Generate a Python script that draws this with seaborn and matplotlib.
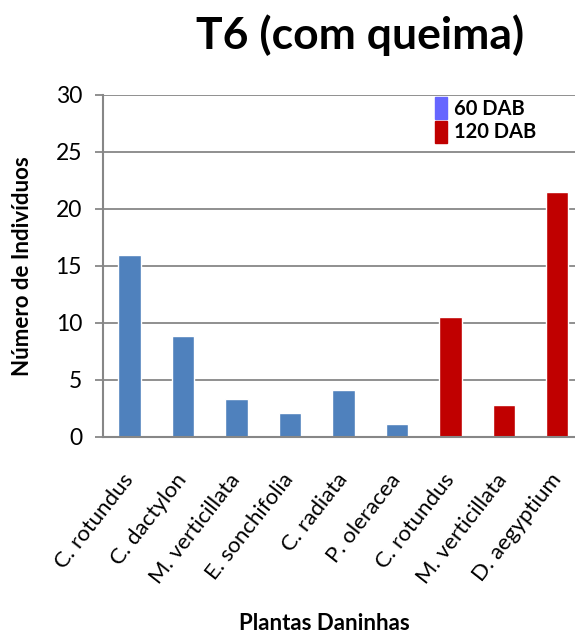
import matplotlib
matplotlib.use("Agg")
import matplotlib.pyplot as plt
import matplotlib.patches as mpatches
import seaborn as sns
import pandas as pd

# Weed counts per species, two sampling dates
plantas = ["C. rotundus", "C. dactylon", "M. verticillata", "E. sonchifolia",
           "C. radiata", "P. oleracea", "C. rotundus", "M. verticillata",
           "D. aegyptium"]
periodo = ["60 DAB"] * 6 + ["120 DAB"] * 3
individuos = [16, 8.9, 3.3, 2.1, 4.1, 1.1, 10.5, 2.8, 21.5]
y_ticks = [0, 5, 10, 15, 20, 25, 30]

bar_colors = {"60 DAB": "#4F81BD", "120 DAB": "#C00000"}
legend_colors = {"60 DAB": "#6666FF", "120 DAB": "#C00000"}

df = pd.DataFrame({
    "slot": [f"{i}" for i in range(len(plantas))],
    "planta": plantas,
    "periodo": periodo,
    "individuos": individuos,
})

sns.set_theme(style="white")
plt.rcParams["font.family"] = ["Lato", "DejaVu Sans"]
plt.rcParams["text.color"] = "black"

fig = plt.figure(figsize=(5.75, 6.37), dpi=100)
ax = fig.add_axes([0.179, 0.314, 0.8365, 0.537])

sns.barplot(data=df, x="slot", y="individuos", hue="periodo",
            palette=bar_colors, dodge=False, width=0.42, ax=ax,
            legend=False, saturation=1)

ax.set_ylim(0, 30)
ax.set_yticks(y_ticks)
ax.set_xlim(-0.5, len(plantas) - 0.5)
ax.yaxis.grid(True, color="#878787", linewidth=1.3)
ax.set_axisbelow(True)
for s in ["top", "right"]:
    ax.spines[s].set_visible(False)
for s in ["left", "bottom"]:
    ax.spines[s].set_color("#878787")
    ax.spines[s].set_linewidth(1.5)

ax.tick_params(axis="y", which="major", left=True, length=6, width=1.3,
               color="#878787", labelsize=16.5, pad=9, labelcolor="black")
ax.tick_params(axis="x", bottom=False, labelsize=16, pad=22,
               labelcolor="black")
ax.set_xticks(range(len(plantas)))
ax.set_xticklabels(plantas, rotation=52, ha="right", va="center",
                   rotation_mode="anchor", color="black")
ax.set_xlabel("")
ax.set_ylabel("")

fig.text(0.626, 0.945, "T6 (com queima)", ha="center", va="center",
         fontsize=32, fontweight="bold", color="black")
fig.text(0.565, 0.021, "Plantas Daninhas", ha="center", va="center",
         fontsize=16, fontweight="bold", color="black")
fig.text(0.040, 0.582, "Número de Indivíduos", ha="center", va="center",
         rotation=90, fontsize=16, fontweight="bold", color="black")

handles = [mpatches.Patch(color=legend_colors[k], label=k)
           for k in ["60 DAB", "120 DAB"]]
leg = ax.legend(handles=handles, loc="upper left",
                bbox_to_anchor=(0.673, 1.018), frameon=False,
                handlelength=0.6, handleheight=1.3, handletextpad=0.35,
                labelspacing=0.1, borderaxespad=0.0,
                prop={"weight": "bold", "size": 14.5})
for t in leg.get_texts():
    t.set_color("black")

fig.savefig("out.png", dpi=100)
